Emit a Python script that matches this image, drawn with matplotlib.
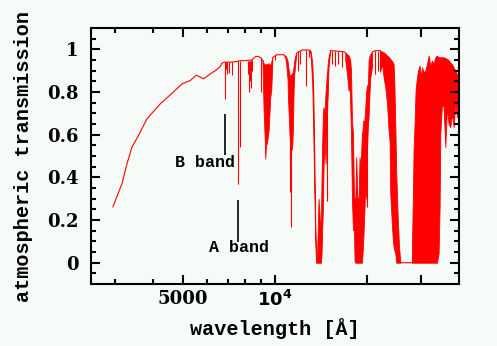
import numpy as np
import matplotlib
matplotlib.use('Agg')
import matplotlib.pyplot as plt
from matplotlib.ticker import FixedLocator, FixedFormatter, NullFormatter

RED = '#ff0000'
BG = '#f7fbf7'

# continuum / upper envelope of the transmission curve; None marks a dense band drawn separately
wave = [2950, 3159, 3280, 3404, 3578, 3814, 4217, 4603, 4961, 5282, 5527, 5839,
        6140, 6380, 6622, 6700, 6840, 7150, 7585, 7700, 8000, 8400, 8620, 8800,
        9000, 9100, None,
        9799, 9895, 10151, 10670, None,
        11741, 12000, 12300, 12882, 13048, None,
        15171, 16565, 16982, None,
        20770, 21289, 22108, None,
        25704, 25800, 28070]
trans = [0.262, 0.371, 0.464, 0.542, 0.597, 0.675, 0.745, 0.794, 0.838, 0.854, 0.879, 0.862,
         0.885, 0.900, 0.919, 0.935, 0.940, 0.940, 0.944, 0.947, 0.947, 0.950, 0.965, 0.968,
         0.960, 0.950, None,
         0.960, 0.965, 0.975, 0.975, None,
         0.981, 0.990, 0.997, 0.997, 0.994, None,
         0.994, 0.990, 0.986, None,
         0.986, 0.994, 0.994, None,
         0.005, 0.0, 0.0]

# water bands: wavelength, top and bottom of the blended lines
b094_wave = [9100, 9178, 9247, 9296, 9344, 9415, 9530, 9652, 9725, 9799]
b094_hi = [0.950, 0.935, 0.930, 0.930, 0.930, 0.930, 0.935, 0.925, 0.940, 0.960]
b094_lo = [0.940, 0.720, 0.600, 0.488, 0.550, 0.560, 0.620, 0.776, 0.810, 0.940]

b113_wave = [10670, 10808, 10889, 10947, 10995, 11027, 11112, 11163, 11222, 11282,
             11332, 11392, 11453, 11506, 11567, 11652, 11741]
b113_hi = [0.975, 0.971, 0.963, 0.955, 0.947, 0.930, 0.893, 0.880, 0.869, 0.875,
           0.885, 0.890, 0.893, 0.920, 0.947, 0.970, 0.981]
b113_lo = [0.975, 0.960, 0.930, 0.885, 0.860, 0.776, 0.667, 0.600, 0.550, 0.550,
           0.527, 0.550, 0.636, 0.807, 0.885, 0.932, 0.975]

b14_wave = [13048, 13148, 13218, 13276, 13347, 13418, 13480, 13548, 13620, 13650,
            13720, 13887, 14066, 14140, 14206, 14280, 14356, 14420, 14530, 14640,
            14796, 14906, 14975, 15090, 15171]
b14_hi = [0.994, 0.970, 0.947, 0.900, 0.800, 0.600, 0.400, 0.200, 0.044, 0.013,
          0.013, 0.300, 0.168, 0.200, 0.400, 0.573, 0.700, 0.729, 0.700, 0.800,
          0.885, 0.947, 0.963, 0.986, 0.994]
b14_lo = [0.994, 0.916, 0.869, 0.776, 0.605, 0.418, 0.262, 0.100, 0.005, 0.0,
          0.0, 0.0, 0.0, 0.0, 0.044, 0.168, 0.262, 0.449, 0.573, 0.464,
          0.700, 0.820, 0.916, 0.963, 0.994]

b19_wave = [16982, 17200, 17410, 17545, 17636, 17730, 17865, 17998, 18135, 18220,
            18315, 18450, 18590, 18770, 18912, 19055, 19260, 19345, 19450, 19600,
            19747, 19900, 20000, 20150, 20245, 20400, 20507, 20770]
b19_hi = [0.986, 0.978, 0.971, 0.960, 0.947, 0.900, 0.667, 0.605, 0.309, 0.300,
          0.293, 0.495, 0.309, 0.293, 0.495, 0.449, 0.605, 0.620, 0.667, 0.660,
          0.729, 0.807, 0.830, 0.838, 0.947, 0.970, 0.978, 0.986]
b19_lo = [0.950, 0.885, 0.807, 0.822, 0.729, 0.597, 0.293, 0.153, 0.153, 0.005,
          0.0, 0.0, 0.0, 0.0, 0.0, 0.0, 0.0, 0.044, 0.106, 0.231,
          0.355, 0.300, 0.527, 0.651, 0.682, 0.807, 0.869, 0.916]

b27a_wave = [22108, 22400, 22670, 22961, 23260, 23540, 23714, 23838, 24150, 24330,
             24440, 24570, 24755, 24940, 25190, 25460, 25704]
b27a_hi = [0.994, 0.990, 0.986, 0.980, 0.971, 0.965, 0.960, 0.955, 0.945, 0.939,
           0.930, 0.854, 0.651, 0.417, 0.230, 0.075, 0.005]
b27a_lo = [0.900, 0.932, 0.869, 0.822, 0.745, 0.620, 0.573, 0.324, 0.168, 0.100,
           0.075, 0.060, 0.044, 0.0, 0.0, 0.0, 0.0]

b27b_wave = [28070, 28284, 28410, 28630, 28840, 29150, 29375, 29735, 30045, 30270,
             30640, 31030, 31430, 31820, 32230, 32640, 33040, 33460, 33890, 34310,
             34570, 34750, 35200, 35630, 36080, 36550, 36990, 37460, 37950, 38410,
             38900, 39410, 39880, 40400]
b27b_hi = [0.075, 0.340, 0.526, 0.651, 0.807, 0.869, 0.900, 0.924, 0.869, 0.916,
           0.893, 0.900, 0.932, 0.971, 0.924, 0.947, 0.932, 0.963, 0.971, 0.963,
           0.963, 0.963, 0.963, 0.963, 0.960, 0.955, 0.950, 0.939, 0.930, 0.916,
           0.900, 0.885, 0.860, 0.838]
b27b_lo = [0.0, 0.0, 0.0, 0.0, 0.0, 0.0, 0.0, 0.0, 0.0, 0.0,
           0.0, 0.0, 0.0, 0.0, 0.0, 0.0, 0.0, 0.0, 0.0, 0.044,
           0.262, 0.605, 0.745, 0.729, 0.542, 0.729, 0.651, 0.635, 0.698, 0.635,
           0.745, 0.682, 0.698, 0.775]

# isolated absorption lines (O2 A and B bands, H2O lines)
line_wave = [6840, 6900, 6966, 7090, 7210, 7585, 7660, 8135, 8197, 8258, 8320, 8384,
             9000, 10030, 11163, 11222, 11306, 11893, 12037, 12660, 12882, 14796,
             15370, 15752, 16075, 16565, 20000, 21289, 21730, 22108]
line_top = [0.940, 0.940, 0.940, 0.940, 0.940, 0.944, 0.947, 0.946, 0.945, 0.946, 0.948, 0.950,
            0.960, 0.975, 0.880, 0.869, 0.880, 0.990, 0.993, 0.997, 0.997, 0.885,
            0.994, 0.994, 0.994, 0.990, 0.830, 0.994, 0.994, 0.994]
line_bot = [0.768, 0.910, 0.885, 0.890, 0.880, 0.371, 0.542, 0.885, 0.800, 0.854, 0.820, 0.900,
            0.800, 0.950, 0.464, 0.332, 0.168, 0.900, 0.932, 0.830, 0.963, 0.290,
            0.932, 0.924, 0.932, 0.916, 0.262, 0.885, 0.900, 0.893]

# band labels: (text, marker wavelength, marker range, text position)
b_mark_wave, b_mark_range, b_text_pos = 6870, (0.503, 0.698), (5920, 0.468)
a_mark_wave, a_mark_range, a_text_pos = 7570, (0.098, 0.296), (7603, 0.071)

LABEL_FONT = ['Liberation Mono', 'DejaVu Sans Mono']

fig = plt.figure(figsize=(4.97, 3.46), dpi=100, facecolor=BG)
ax = fig.add_axes([0.183, 0.179, 0.7405, 0.740])
ax.set_facecolor(BG)

ax.plot(np.array(wave, dtype=float), np.array(trans, dtype=float), color=RED, lw=0.8)
for w, hi, lo in [(b094_wave, b094_hi, b094_lo), (b113_wave, b113_hi, b113_lo),
                  (b14_wave, b14_hi, b14_lo), (b19_wave, b19_hi, b19_lo),
                  (b27a_wave, b27a_hi, b27a_lo), (b27b_wave, b27b_hi, b27b_lo)]:
    ax.fill_between(w, lo, hi, color=RED, lw=0.6)
ax.vlines(line_wave, line_bot, line_top, color=RED, lw=0.8)

# O2 band markers
ax.vlines([b_mark_wave], *b_mark_range, color='black', lw=1.2)
ax.vlines([a_mark_wave], *a_mark_range, color='black', lw=1.2)
ax.text(*b_text_pos, 'B band', ha='center', va='center', fontsize=12,
        family=LABEL_FONT, weight='bold')
ax.text(*a_text_pos, 'A band', ha='center', va='center', fontsize=12,
        family=LABEL_FONT, weight='bold')

ax.set_xscale('log')
ax.set_xlim(2500, 40000)
ax.set_ylim(-0.1, 1.1)

ax.xaxis.set_major_locator(FixedLocator([5000, 10000, 20000, 30000]))
ax.xaxis.set_major_formatter(FixedFormatter(['5000', r'$\mathbf{10^4}$', '', '']))
ax.xaxis.set_minor_locator(FixedLocator([3000, 4000, 6000, 7000, 8000, 9000]))
ax.xaxis.set_minor_formatter(NullFormatter())

ax.yaxis.set_major_locator(FixedLocator([0, 0.2, 0.4, 0.6, 0.8, 1.0]))
ax.yaxis.set_major_formatter(FixedFormatter(['0', '0.2', '0.4', '0.6', '0.8', '1']))
ax.yaxis.set_minor_locator(FixedLocator(np.arange(-0.05, 1.1, 0.05)))

ax.tick_params(which='both', direction='in', top=True, right=True, width=1.5,
               colors='black', labelsize=13)
ax.tick_params(which='major', length=6.5)
ax.tick_params(which='minor', length=3.6)
ax.tick_params(axis='x', pad=4)
ax.tick_params(axis='y', pad=9)
for lab in ax.get_xticklabels() + ax.get_yticklabels():
    lab.set_family('DejaVu Serif')
    lab.set_weight('bold')
for sp in ax.spines.values():
    sp.set_linewidth(1.5)

ax.set_xlabel('wavelength [Å]', family=LABEL_FONT, weight='bold', fontsize=14.5, labelpad=6)
ax.set_ylabel('atmospheric transmission', family=LABEL_FONT, weight='bold', fontsize=14.5,
              labelpad=10)

fig.savefig('out.png', dpi=100, facecolor=BG)
